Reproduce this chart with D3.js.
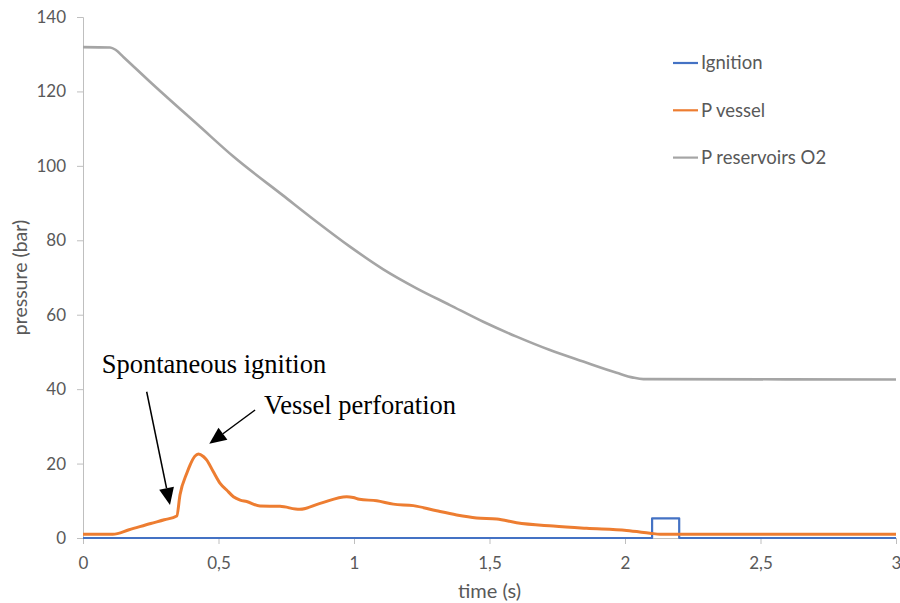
<!DOCTYPE html>
<html>
<head>
<meta charset="utf-8">
<script src="https://cdn.jsdelivr.net/npm/d3@7"></script>
<style>
  body { margin: 0; background: #fff; }
  text { font-family: Lato, "Open Sans", sans-serif; fill: #595959; }
  .annot { font-family: "Liberation Serif", "Times New Roman", serif; fill: #000; font-size: 26.5px; }
</style>
</head>
<body>
<svg></svg>
<script>
// values (time in s, pressure in bar)
var ignitionT = [0, 2.1, 2.1, 2.2, 2.2, 3];
var ignitionP = [0, 0, 5.3, 5.3, 0, 0];

var vesselT = [0, 0.11, 0.17, 0.25, 0.3, 0.346, 0.358, 0.383, 0.395, 0.413, 0.426, 0.444, 0.456, 0.481, 0.506, 0.53, 0.555, 0.58, 0.604, 0.653, 0.727, 0.8, 0.875, 0.973, 0.997, 1.02, 1.084, 1.145, 1.219, 1.305, 1.379, 1.452, 1.527, 1.6, 1.735, 1.858, 2.006, 2.092, 2.13, 3];
var vesselP = [1.0, 1.0, 2.2, 3.9, 4.9, 5.9, 11.6, 17.4, 19.6, 22.0, 22.6, 21.9, 21.0, 17.8, 14.7, 12.9, 11.1, 10.2, 9.8, 8.6, 8.5, 7.7, 9.3, 11.1, 10.9, 10.4, 10.0, 9.1, 8.7, 7.3, 6.2, 5.4, 5.1, 4.1, 3.2, 2.6, 2.0, 1.3, 1.0, 1.0];

var reservoirT = [0, 0.1, 0.12, 0.15, 0.247, 0.432, 0.555, 0.739, 0.862, 0.985, 1.108, 1.231, 1.354, 1.477, 1.6, 1.723, 1.846, 1.969, 2.03, 2.068, 3];
var reservoirP = [131.9, 131.8, 131.2, 129.2, 122.6, 110.5, 102.5, 92.0, 85.0, 78.3, 72.2, 67.1, 62.6, 58.1, 54.1, 50.5, 47.4, 44.4, 43.1, 42.7, 42.6];

var seriesNames = ['Ignition', 'P vessel', 'P reservoirs O2'];
var seriesColors = ['#4472C4', '#ED7D31', '#A5A5A5'];

var xTicks = [0, 0.5, 1, 1.5, 2, 2.5, 3];
var yTicks = [0, 20, 40, 60, 80, 100, 120, 140];

// annotations: label position and arrow tail -> tip, in data units
var annotLabels = ['Spontaneous ignition', 'Vessel perforation'];
var annotText = [[0.069, 44.3], [0.668, 33.3]];
var annotArrow = [[0.235, 39.3, 0.321, 8.9], [0.635, 34.4, 0.466, 25.3]];

var width = 900, height = 603;
var margin = { top: 17, right: 4, bottom: 65, left: 83 };

var svg = d3.select('svg').attr('width', width).attr('height', height);

var x = d3.scaleLinear().domain([0, 3]).range([margin.left, width - margin.right]);
var y = d3.scaleLinear().domain([0, 140]).range([height - margin.bottom, margin.top]);

var fmt = function(d) { return String(d).replace('.', ','); };

// y axis
var yAxis = svg.append('g')
    .attr('transform', `translate(${margin.left},0)`)
    .call(d3.axisLeft(y).tickValues(yTicks).tickSize(6).tickPadding(11));
yAxis.select('.domain').attr('stroke', '#bfbfbf');
yAxis.selectAll('.tick line').attr('stroke', '#bfbfbf');
yAxis.selectAll('.tick text').style('font-size', '17px').attr('fill', '#595959');

// x axis
var xAxis = svg.append('g')
    .attr('transform', `translate(0,${y(0)})`)
    .call(d3.axisBottom(x).tickValues(xTicks).tickFormat(fmt).tickSize(6).tickSizeOuter(0).tickPadding(13));
xAxis.select('.domain').attr('stroke', '#bfbfbf');
xAxis.selectAll('.tick line').attr('stroke', '#bfbfbf');
xAxis.selectAll('.tick text').style('font-size', '17px').attr('fill', '#595959');

svg.append('text')
    .attr('x', (margin.left + width - margin.right) / 2)
    .attr('y', 598)
    .attr('text-anchor', 'middle')
    .style('font-size', '20px')
    .text('time (s)');

svg.append('text')
    .attr('transform', `translate(27,${(y(0) + y(140)) / 2}) rotate(-90)`)
    .attr('text-anchor', 'middle')
    .style('font-size', '19.5px')
    .text('pressure (bar)');

// lines
var series = [
  d3.zip(ignitionT, ignitionP),
  d3.zip(vesselT, vesselP),
  d3.zip(reservoirT, reservoirP)
];
var curves = [d3.curveLinear, d3.curveMonotoneX, d3.curveMonotoneX];
var widths = [2.2, 3, 2.6];

series.forEach(function(s, i) {
  svg.append('path')
      .datum(s)
      .attr('fill', 'none')
      .attr('stroke', seriesColors[i])
      .attr('stroke-width', widths[i])
      .attr('stroke-linejoin', 'round')
      .attr('d', d3.line().curve(curves[i]).x(d => x(d[0])).y(d => y(d[1])));
});

// legend
var legend = svg.append('g').attr('transform', 'translate(673,63)');
seriesNames.forEach(function(name, i) {
  var g = legend.append('g').attr('transform', `translate(0,${i * 47.3})`);
  g.append('line').attr('x1', 0).attr('x2', 25).attr('stroke', seriesColors[i]).attr('stroke-width', 2.2);
  g.append('text').attr('x', 28).attr('dy', '0.35em').style('font-size', '18.5px').text(name);
});

// annotations
annotLabels.forEach(function(label, i) {
  svg.append('text')
      .attr('class', 'annot')
      .attr('x', x(annotText[i][0]))
      .attr('y', y(annotText[i][1]))
      .text(label);

  var a = annotArrow[i];
  var x0 = x(a[0]), y0 = y(a[1]), x1 = x(a[2]), y1 = y(a[3]);
  var ang = Math.atan2(y1 - y0, x1 - x0);
  var len = 17, hw = 7.5;
  var bx = x1 - len * Math.cos(ang), by = y1 - len * Math.sin(ang);
  svg.append('line')
      .attr('x1', x0).attr('y1', y0).attr('x2', bx).attr('y2', by)
      .attr('stroke', '#000').attr('stroke-width', 1.5);
  svg.append('path')
      .attr('fill', '#000')
      .attr('d', d3.line()([
        [x1, y1],
        [bx + hw * Math.sin(ang), by - hw * Math.cos(ang)],
        [bx - hw * Math.sin(ang), by + hw * Math.cos(ang)]
      ]) + 'Z');
});
</script>
</body>
</html>
